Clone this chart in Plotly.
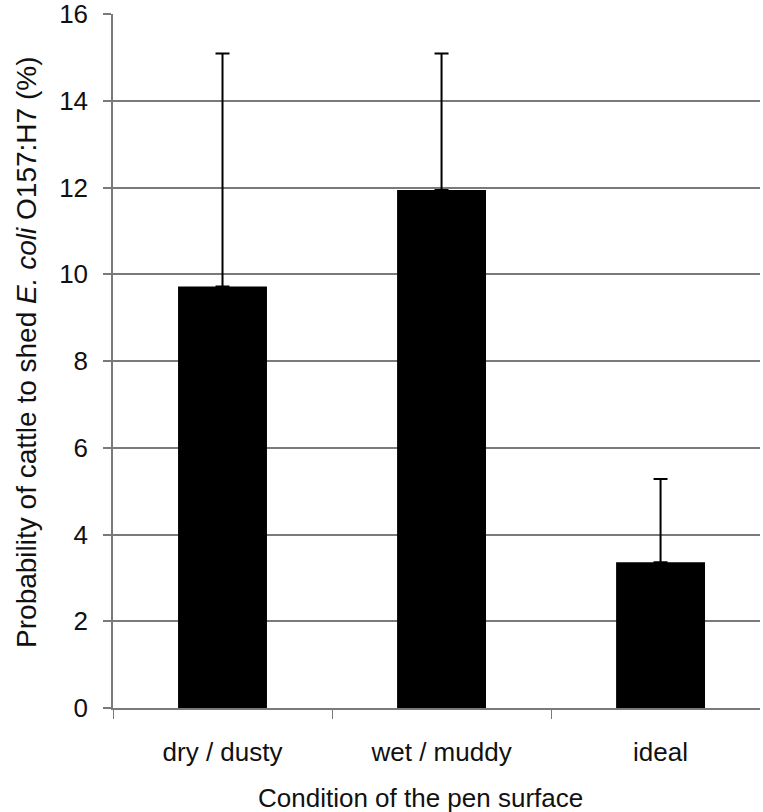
import plotly.graph_objects as go

# Pen-surface conditions and shedding probability (%), with upper error
conditions = ["dry / dusty", "wet / muddy", "ideal"]
probability = [9.72, 11.94, 3.36]
error_upper = [5.37, 3.15, 1.92]
error_lower = [0, 0, 0]

y_ticks = [0, 2, 4, 6, 8, 10, 12, 14, 16]

FONT = "Liberation Sans, Arial, sans-serif"
TEXT = "#111111"
GRID = "#7a7a7a"

fig = go.Figure(
    go.Bar(
        x=conditions,
        y=probability,
        width=0.406,
        marker=dict(color="black", line=dict(width=0)),
        error_y=dict(
            type="data",
            symmetric=False,
            array=error_upper,
            arrayminus=error_lower,
            color="black",
            thickness=2,
            width=7,
        ),
    )
)

fig.update_layout(
    width=763,
    height=812,
    margin=dict(l=113, r=3, t=14, b=104),
    paper_bgcolor="white",
    plot_bgcolor="white",
    showlegend=False,
    font=dict(family=FONT, size=24, color=TEXT),
    xaxis=dict(
        type="category",
        range=[-0.5, 2.454],
        automargin=False,
        showgrid=False,
        showline=True,
        linecolor=GRID,
        linewidth=1.5,
        ticks="outside",
        tickson="boundaries",
        ticklen=9,
        tickcolor=GRID,
        tickwidth=1,
        tickfont=dict(size=26, color=TEXT),
        ticklabelstandoff=20,
    ),
    yaxis=dict(
        range=[0, 16],
        tickvals=y_ticks,
        automargin=False,
        showgrid=True,
        gridcolor=GRID,
        gridwidth=1.5,
        showline=True,
        linecolor=GRID,
        linewidth=1.5,
        zeroline=False,
        ticks="outside",
        ticklen=8,
        tickcolor=GRID,
        tickwidth=1.5,
        tickfont=dict(size=26, color=TEXT),
        ticklabelstandoff=10,
        ticklabeloverflow="allow",
    ),
)

# Axis titles
fig.add_annotation(
    text="Condition of the pen surface",
    xref="paper",
    yref="paper",
    x=0.4745,
    y=-0.1297,
    xanchor="center",
    yanchor="middle",
    showarrow=False,
    font=dict(family=FONT, size=26, color=TEXT),
)

fig.add_annotation(
    text="Probability of cattle to shed <i>E. coli</i> O157:H7 (%)",
    xref="paper",
    yref="paper",
    x=-0.133,
    y=0.513,
    xanchor="center",
    yanchor="middle",
    textangle=-90,
    showarrow=False,
    font=dict(family=FONT, size=28, color=TEXT),
)

fig.write_html("out.html")
